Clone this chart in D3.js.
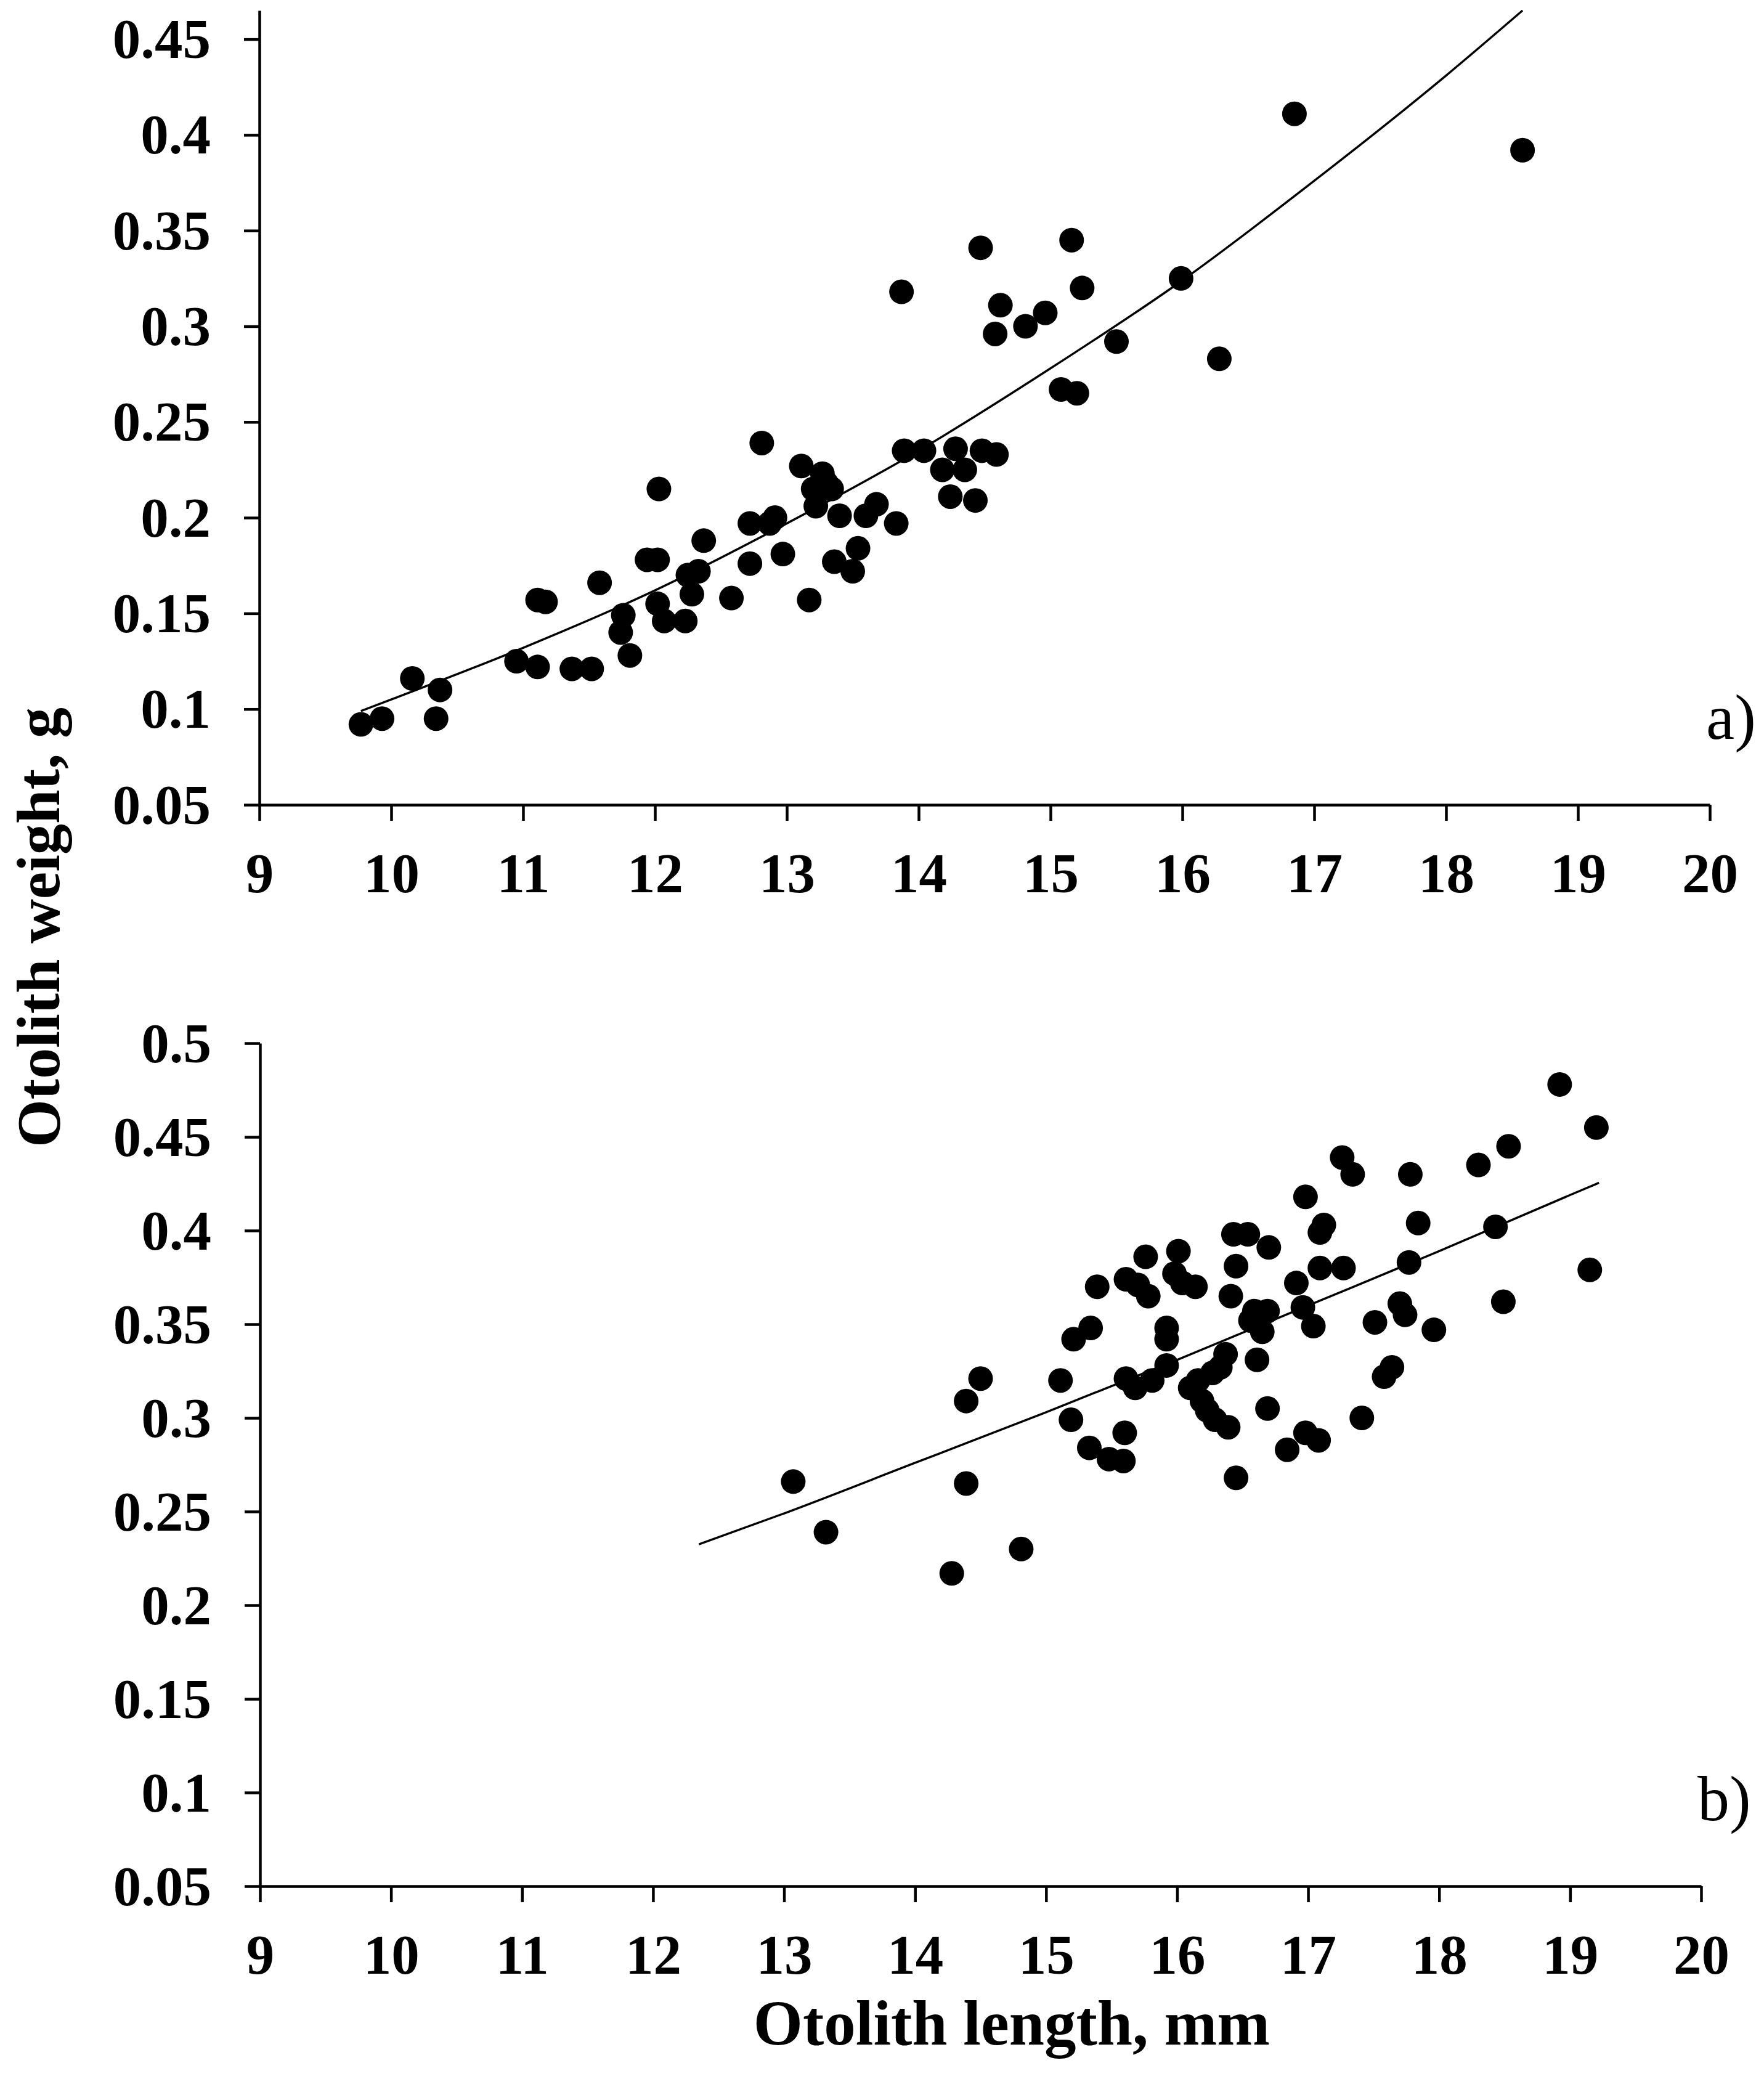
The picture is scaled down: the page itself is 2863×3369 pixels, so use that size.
<!DOCTYPE html>
<html>
<head>
<meta charset="utf-8">
<script src="https://cdnjs.cloudflare.com/ajax/libs/d3/7.8.5/d3.min.js"></script>
<style>
  body { margin: 0; background: #fff; }
  svg { display: block; background: #fff; }
  .axis path, .axis line { stroke: #000; stroke-width: 4.5; }
  .axis text { font-family: "Liberation Serif", "Times New Roman", serif; font-weight: bold; font-size: 91px; fill: #000; }
  .title { font-family: "Liberation Serif", "Times New Roman", serif; font-weight: bold; font-size: 100px; fill: #000; }
  .title.xTitle { font-size: 103px; }
  .tag { font-family: "Liberation Serif", "Times New Roman", serif; font-size: 104px; fill: #000; }
</style>
</head>
<body>
<script>
// panel a) : otolith length (mm) vs otolith weight (g)
var topLength = [9.77, 9.93, 10.16, 10.34, 10.37, 10.95, 11.11, 11.11, 11.17, 11.37,
  11.52, 11.58, 11.74, 11.76, 11.81, 11.94, 12.02, 12.03, 12.02, 12.07,
  12.23, 12.25, 12.28, 12.33, 12.37, 12.58, 12.72, 12.72, 12.81, 12.87,
  12.91, 12.97, 13.11, 13.17, 13.20, 13.22, 13.27, 13.30, 13.34, 13.36,
  13.40, 13.50, 13.54, 13.60, 13.68, 13.83, 13.87, 13.89, 14.04, 14.18,
  14.24, 14.28, 14.35, 14.43, 14.47, 14.48, 14.58, 14.59, 14.62, 14.81,
  14.96, 15.08, 15.16, 15.20, 15.24, 15.50, 15.99, 16.28, 16.85, 18.58];
var topWeight = [0.092, 0.095, 0.116, 0.095, 0.110, 0.125, 0.122, 0.157, 0.156, 0.121,
  0.121, 0.166, 0.140, 0.149, 0.128, 0.178, 0.178, 0.215, 0.155, 0.146,
  0.146, 0.170, 0.160, 0.172, 0.188, 0.158, 0.197, 0.176, 0.239, 0.197,
  0.200, 0.181, 0.227, 0.157, 0.215, 0.206, 0.223, 0.218, 0.215, 0.177,
  0.201, 0.172, 0.184, 0.201, 0.207, 0.197, 0.318, 0.235, 0.235, 0.225,
  0.211, 0.236, 0.225, 0.209, 0.341, 0.235, 0.296, 0.233, 0.311, 0.300,
  0.307, 0.267, 0.345, 0.265, 0.320, 0.292, 0.325, 0.283, 0.411, 0.392];
// trend line
var topCurveLength = [9.77, 10, 11, 12, 13, 14, 15, 16, 17, 18, 18.58];
var topCurveWeight = [0.099, 0.105, 0.132, 0.162, 0.197, 0.235, 0.278, 0.324, 0.376, 0.431, 0.465];

// panel b)
var bottomLength = [13.07, 13.32, 14.28, 14.39, 14.39, 14.50, 14.81, 15.11, 15.19, 15.21,
  15.33, 15.34, 15.39, 15.48, 15.59, 15.60, 15.61, 15.61, 15.68, 15.70,
  15.76, 15.78, 15.81, 15.92, 15.92, 15.92, 16.01, 15.98, 16.04, 16.14,
  16.10, 16.16, 16.19, 16.23, 16.27, 16.29, 16.33, 16.37, 16.39, 16.41,
  16.43, 16.45, 16.45, 16.54, 16.56, 16.59, 16.61, 16.65, 16.69, 16.69,
  16.70, 16.84, 16.91, 16.96, 16.98, 16.98, 17.04, 17.08, 17.09, 17.12,
  17.09, 17.26, 17.27, 17.34, 17.41, 17.51, 17.58, 17.64, 17.70, 17.74,
  17.77, 17.78, 17.84, 17.96, 18.30, 18.43, 18.49, 18.53, 18.92, 19.15, 19.20];
var bottomWeight = [0.266, 0.239, 0.217, 0.309, 0.265, 0.321, 0.230, 0.320, 0.299, 0.342,
  0.284, 0.348, 0.370, 0.278, 0.277, 0.292, 0.374, 0.321, 0.316, 0.371,
  0.386, 0.365, 0.320, 0.348, 0.342, 0.328, 0.389, 0.377, 0.372, 0.370,
  0.316, 0.320, 0.309, 0.304, 0.324, 0.299, 0.327, 0.334, 0.295, 0.365,
  0.398, 0.381, 0.268, 0.398, 0.352, 0.357, 0.331, 0.346, 0.357, 0.305,
  0.391, 0.283, 0.372, 0.359, 0.418, 0.292, 0.349, 0.288, 0.399, 0.403,
  0.380, 0.439, 0.380, 0.430, 0.300, 0.351, 0.322, 0.327, 0.361, 0.355,
  0.383, 0.430, 0.404, 0.347, 0.435, 0.402, 0.362, 0.445, 0.478, 0.379, 0.455];
var bottomCurveLength = [12.35, 13, 14, 15, 16, 17, 18, 19, 19.22];
var bottomCurveWeight = [0.2325, 0.249, 0.276, 0.303, 0.331, 0.360, 0.389, 0.419, 0.4255];

var xTicks = [9, 10, 11, 12, 13, 14, 15, 16, 17, 18, 19, 20];
var topYTicks = [0.05, 0.1, 0.15, 0.2, 0.25, 0.3, 0.35, 0.4, 0.45];
var bottomYTicks = [0.05, 0.1, 0.15, 0.2, 0.25, 0.3, 0.35, 0.4, 0.45, 0.5];


class ScatterPanel{

  // left/top/right/bottom are the pixel edges of the plotting area
  constructor(id, container, left, top, right, bottom, xDomain, yDomain){
    this.id = id;
    this.canvas = container.append("g").attr("id", id);
    this.left = left;
    this.top = top;
    this.right = right;
    this.bottom = bottom;

    this.xScale = d3.scaleLinear().domain(xDomain).range([left, right]);
    this.yScale = d3.scaleLinear().domain(yDomain).range([bottom, top]);

    this.data = [];
    this.curve = [];
  }

  setData(xs, ys, curveX, curveY, xTicks, yTicks, tag){
    this.data = xs.map(function(d, i){ return {x: d, y: ys[i]}; });
    this.curve = curveX.map(function(d, i){ return {x: d, y: curveY[i]}; });
    this.xTicks = xTicks;
    this.yTicks = yTicks;
    this.tag = tag;
    this.update();
  }

  update(){
    var xScale = this.xScale;
    var yScale = this.yScale;

    this.xAxis = d3.axisBottom(xScale)
      .tickValues(this.xTicks)
      .tickSize(26)
      .tickSizeOuter(0)
      .tickPadding(51)
      .tickFormat(function(d){ return String(d); });

    this.yAxis = d3.axisLeft(yScale)
      .tickValues(this.yTicks)
      .tickSize(25)
      .tickSizeOuter(0)
      .tickPadding(54)
      .tickFormat(function(d){ return String(d); });

    this.yAxisGroup = this.canvas.append("g")
      .attr("class", "axis yAxis")
      .attr("transform", "translate(" + this.left + ",0)")
      .call(this.yAxis);

    this.xAxisGroup = this.canvas.append("g")
      .attr("class", "axis xAxis")
      .attr("transform", "translate(0," + this.bottom + ")")
      .call(this.xAxis);

    this.yAxisGroup.selectAll("text").attr("dy", "0.33em");

    var line = d3.line()
      .x(function(d){ return xScale(d.x); })
      .y(function(d){ return yScale(d.y); })
      .curve(d3.curveMonotoneX);

    this.canvas.append("path")
      .datum(this.curve)
      .attr("fill", "none")
      .attr("stroke", "#000")
      .attr("stroke-width", 3.5)
      .attr("d", line);

    this.canvas.selectAll(".dot")
      .data(this.data)
      .enter()
      .append("circle")
      .attr("class", "dot")
      .attr("cx", function(d){ return xScale(d.x); })
      .attr("cy", function(d){ return yScale(d.y); })
      .attr("r", 20)
      .attr("fill", "#000");

    this.canvas.append("text")
      .attr("class", "tag")
      .attr("x", this.right - 6)
      .attr("y", this.bottom - 107)
      .text(this.tag);
  }
}


var svg = d3.select("body").append("svg")
  .attr("width", 2863)
  .attr("height", 3369);

var panelA = new ScatterPanel("panelA", svg, 421, 17, 2775, 1306, [9, 20], [0.05, 0.465]);
panelA.setData(topLength, topWeight, topCurveLength, topCurveWeight, xTicks, topYTicks, "a)");

var panelB = new ScatterPanel("panelB", svg, 422, 1693, 2761, 3061, [9, 20], [0.05, 0.5]);
panelB.setData(bottomLength, bottomWeight, bottomCurveLength, bottomCurveWeight, xTicks, bottomYTicks, "b)");

// shared axis titles
svg.append("text")
  .attr("class", "title")
  .attr("text-anchor", "middle")
  .attr("transform", "translate(96,1505) rotate(-90)")
  .text("Otolith weight, g");

svg.append("text")
  .attr("class", "title xTitle")
  .attr("text-anchor", "middle")
  .attr("x", 1642)
  .attr("y", 3318)
  .text("Otolith length, mm");
</script>
</body>
</html>
